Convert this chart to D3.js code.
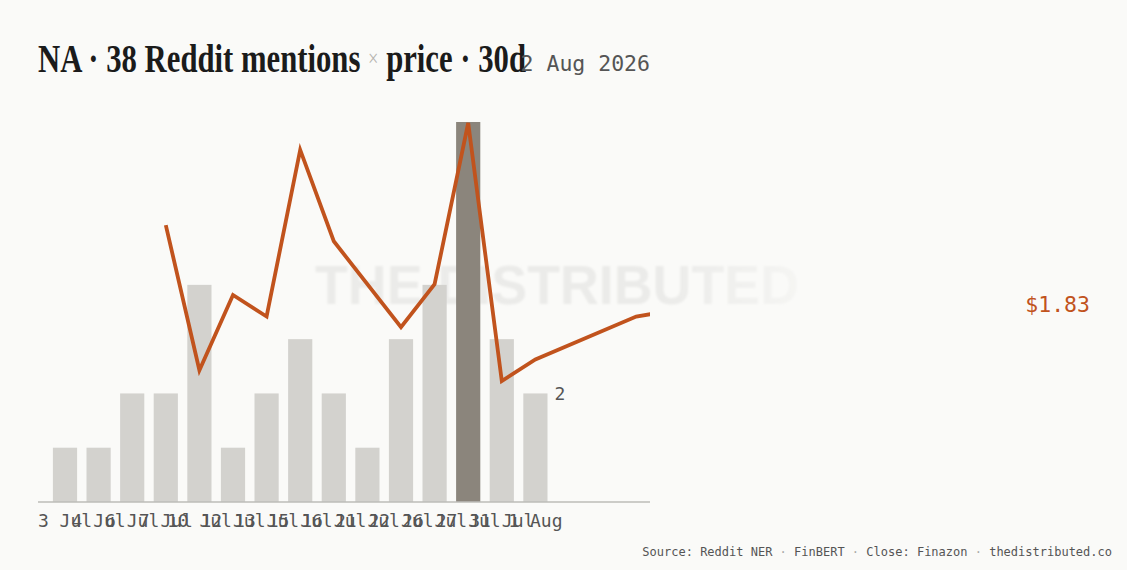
<!DOCTYPE html>
<html>
<head>
<meta charset="utf-8">
<script src="https://cdn.jsdelivr.net/npm/d3@7"></script>
<style>
  html, body { margin: 0; padding: 0; background: #fafaf8; }
  svg { display: block; }
</style>
</head>
<body>
<div id="chart"></div>
<script>
// bar categories (mention days) and mention counts
const days = ["3 Jul", "4 Jul", "6 Jul", "7 Jul", "10 Jul", "12 Jul", "13 Jul", "15 Jul",
  "16 Jul", "21 Jul", "22 Jul", "26 Jul", "27 Jul", "31 Jul", "1 Aug"];
const mentions = [1, 1, 2, 2, 4, 1, 2, 3, 2, 1, 3, 4, 7, 3, 2];

// close price per slot (null = no close on that slot), runs past the last bar
const closes = [null, null, null, 1.99, 1.72, 1.86, 1.82, 2.13, 1.96, null, 1.80,
  1.88, 2.18, 1.70, 1.74, null, null, 1.82, 1.83];

const titleText = "NA · 38 Reddit mentions";
const titleText2 = " price · 30d";
const asOf = "2 Aug 2026";
const sourceParts = ["Source: Reddit NER", "FinBERT", "Close: Finazon", "thedistributed.co"];

const width = 1127;
const height = 570;
const plotLeft = 38;
const plotRight = 650;
const plotTop = 122;
const plotBottom = 502;
const mono = "'DejaVu Sans Mono', 'Liberation Mono', monospace";

const svg = d3
  .select("#chart")
  .append("svg")
  .attr("width", width)
  .attr("height", height);

svg.append("rect").attr("width", width).attr("height", height).attr("fill", "#fafaf8");

const defs = svg.append("defs");
defs
  .append("clipPath")
  .attr("id", "plot-clip")
  .append("rect")
  .attr("x", plotLeft)
  .attr("y", 0)
  .attr("width", plotRight - plotLeft)
  .attr("height", height);

const fade = defs
  .append("linearGradient")
  .attr("id", "wm-fade")
  .attr("x1", "0%")
  .attr("x2", "100%");
fade.append("stop").attr("offset", "0%").attr("stop-color", "#ebebe9");
fade.append("stop").attr("offset", "72%").attr("stop-color", "#ebebe9");
fade.append("stop").attr("offset", "100%").attr("stop-color", "#f5f5f3");

defs
  .append("filter")
  .attr("id", "wm-blur")
  .append("feGaussianBlur")
  .attr("stdDeviation", 0.8);

// scales: one slot per band, bars use the first days.length slots
const step = 33.6;
const x = d3
  .scaleBand()
  .domain(d3.range(closes.length))
  .range([plotLeft + 10.2, plotLeft + 10.2 + step * closes.length])
  .paddingInner(0.28)
  .paddingOuter(0.14);

const y = d3
  .scaleLinear()
  .domain([0, d3.max(mentions)])
  .range([plotBottom, plotTop]);

const yPrice = d3
  .scaleLinear()
  .domain(d3.extent(closes.filter((d) => d != null)))
  .range([381, 123]);

// watermark
svg
  .append("text")
  .attr("x", 557)
  .attr("y", 304)
  .attr("text-anchor", "middle")
  .attr("font-family", "'Liberation Sans', Arial, sans-serif")
  .attr("font-weight", "bold")
  .attr("font-size", 55)
  .attr("textLength", 484)
  .attr("lengthAdjust", "spacingAndGlyphs")
  .attr("fill", "url(#wm-fade)")
  .attr("filter", "url(#wm-blur)")
  .text("THE DISTRIBUTED");

// bars
const maxMentions = d3.max(mentions);
svg
  .selectAll("rect.bar")
  .data(mentions)
  .enter()
  .append("rect")
  .attr("class", "bar")
  .attr("x", (d, i) => x(i))
  .attr("y", (d) => y(d))
  .attr("width", x.bandwidth())
  .attr("height", (d) => y(0) - y(d))
  .attr("fill", (d) => (d === maxMentions ? "#8b857c" : "#d3d2ce"));

// value label on the last bar
const lastIdx = mentions.length - 1;
svg
  .append("text")
  .attr("x", x(lastIdx) + x.bandwidth() + 7)
  .attr("y", y(mentions[lastIdx]) + 7)
  .attr("font-family", mono)
  .attr("font-size", 18)
  .attr("fill", "#555")
  .text(mentions[lastIdx]);

// baseline
svg
  .append("line")
  .attr("x1", plotLeft)
  .attr("x2", plotRight)
  .attr("y1", plotBottom)
  .attr("y2", plotBottom)
  .style("stroke", "#bdbcb8")
  .style("stroke-width", 1.5);

// x axis labels
const xAxis = d3
  .axisBottom(x)
  .tickValues(d3.range(days.length))
  .tickFormat((i) => days[i])
  .tickSize(0)
  .tickPadding(12);

const axisG = svg
  .append("g")
  .attr("transform", `translate(0,${plotBottom})`)
  .call(xAxis);
axisG.select(".domain").remove();
axisG
  .selectAll("text")
  .attr("font-family", mono)
  .attr("font-size", 18)
  .attr("fill", "#555");

// price line
const pricePoints = closes
  .map((v, i) => ({ i: i, v: v }))
  .filter((d) => d.v != null);

const line = d3
  .line()
  .x((d) => x(d.i) + x.bandwidth() / 2)
  .y((d) => yPrice(d.v));

svg
  .append("path")
  .datum(pricePoints)
  .attr("clip-path", "url(#plot-clip)")
  .attr("d", line)
  .attr("fill", "none")
  .style("stroke", "#c1531d")
  .style("stroke-width", 3.8);

// last close label
const lastClose = pricePoints[pricePoints.length - 1].v;
svg
  .append("text")
  .attr("x", 1090)
  .attr("y", yPrice(lastClose) + 1)
  .attr("text-anchor", "end")
  .attr("font-family", mono)
  .attr("font-size", 21.5)
  .attr("fill", "#c1531d")
  .text("$" + lastClose.toFixed(2));

// title
const title = svg
  .append("text")
  .attr("x", plotLeft)
  .attr("y", 72)
  .attr("font-family", "'Liberation Serif', 'Times New Roman', serif")
  .attr("font-weight", "bold")
  .attr("font-size", 40)
  .attr("fill", "#1b1b1b")
  .attr("textLength", 488)
  .attr("lengthAdjust", "spacingAndGlyphs");
title.append("tspan").text(titleText + " ");
title
  .append("tspan")
  .attr("font-weight", "normal")
  .attr("font-size", 24)
  .attr("dy", -6)
  .attr("fill", "#b5b3ae")
  .text("×");
title.append("tspan").attr("dy", 6).text(titleText2);

svg
  .append("text")
  .attr("x", plotRight)
  .attr("y", 71)
  .attr("text-anchor", "end")
  .attr("font-family", mono)
  .attr("font-size", 21.5)
  .attr("fill", "#555")
  .text(asOf);

// footer
const footer = svg
  .append("text")
  .attr("x", 1112)
  .attr("y", 556)
  .attr("text-anchor", "end")
  .attr("font-family", mono)
  .attr("font-size", 12)
  .attr("fill", "#555");
sourceParts.forEach((part, i) => {
  if (i > 0) {
    footer.append("tspan").attr("fill", "#aaa").text(" · ");
  }
  footer.append("tspan").text(part);
});
</script>
</body>
</html>
